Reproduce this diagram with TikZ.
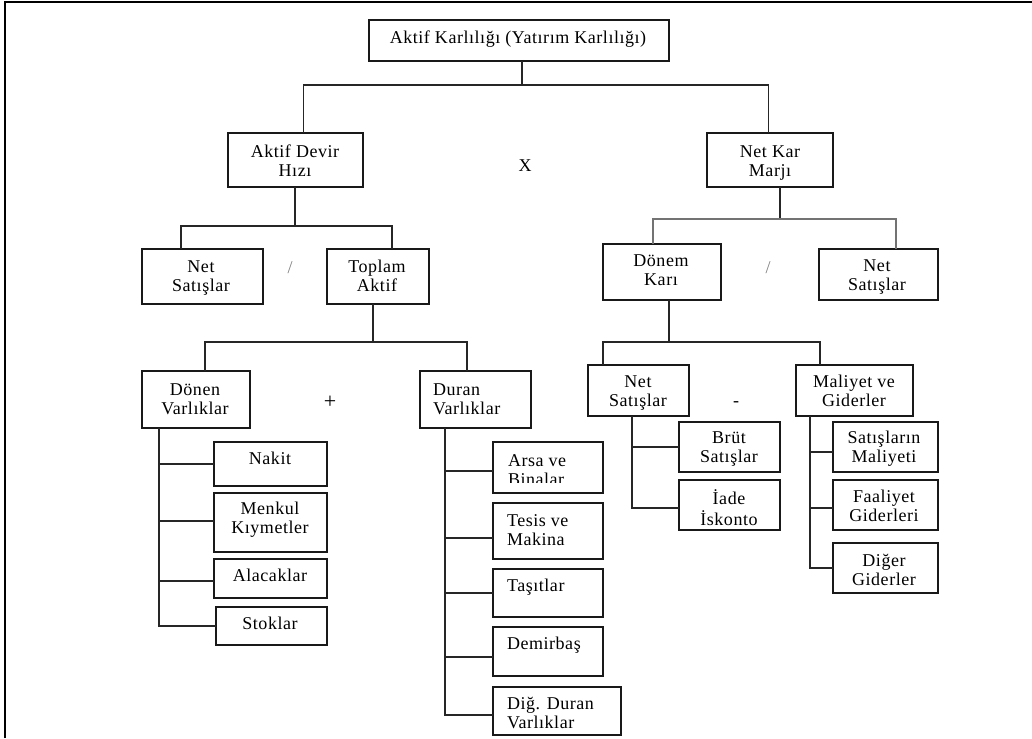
\documentclass[tikz,border=0pt]{standalone}
\usepackage{fontspec}
\setmainfont{Liberation Serif}[LetterSpace=3]
\newcommand\bx[6][box]{\node[#1, minimum width={(#5-#3)*1pt}, minimum height={(#6-#4)*1pt}] (#2) at ({(#3+#5)/2},{(#4+#6)/2}) {};}
\newcommand\tx[5][txt]{\node[#1] (#2) at (#3,{#4-7.8}) {#5};}
\begin{document}
\begin{tikzpicture}[x=1pt,y=-1pt,
  box/.style={draw=black!90, line width=1.2pt, rectangle, inner sep=0pt, outer sep=0pt},
  thickbox/.style={box, line width=2.4pt},
  txt/.style={inner sep=0pt, outer sep=0pt, font=\fontsize{18}{19}\selectfont, align=center, anchor=north},
  ltxt/.style={txt, align=left, anchor=north west},
  sym/.style={inner sep=0pt, outer sep=0pt, font=\fontsize{18}{19}\selectfont, anchor=center},
  conn/.style={draw=black!85, line width=1.2pt},
  gconn/.style={draw=black!55, line width=1.2pt}
]
\useasboundingbox (0,0) rectangle (1032,738);
% frame
\draw[line width=2.5pt] (5,738) -- (5,2.2) -- (1032,2.2);

% boxes
\bx[thickbox]{tb}{369}{20}{669}{61}
\bx[thickbox]{ad}{228}{133}{363}{187}
\bx[thickbox]{nk}{707}{133}{833}{187}
\bx{ns1}{142}{249}{263}{304}
\bx{ta}{327}{249}{429}{304}
\bx{dk}{603}{244}{721}{300}
\bx{ns2}{819}{249}{938}{300}
\bx{dv}{142}{371}{250}{428}
\bx{duv}{420}{371}{531}{428}
\bx{nak}{214}{442}{327}{486}
\bx{men}{214}{493}{327}{552}
\bx{ala}{214}{559}{327}{598}
\bx{sto}{216}{607}{327}{645}
\bx{ars}{493}{442}{603}{493}
\bx{tes}{493}{503}{603}{559}
\bx{tas}{493}{569}{603}{617}
\bx{dem}{493}{627}{603}{676}
\bx{dig}{493}{687}{621}{735}
\bx{nsat}{588}{365}{689}{416}
\bx{mg}{796}{365}{913}{416}
\bx{bru}{679}{422}{780}{472}
\bx{iad}{679}{480}{780}{530}
\bx{sm}{833}{422}{938}{472}
\bx{fg}{833}{480}{938}{530}
\bx{dg}{833}{543}{938}{593}

% texts
\tx{t0}{518}{38}{\strut Aktif Karlılığı (Yatırım Karlılığı)}
\tx{t1}{295}{152}{\strut Aktif Devir\\\strut Hızı}
\tx{t2}{770}{152}{\strut Net Kar\\\strut Marjı}
\tx{t3}{201}{267}{\strut Net\\\strut Satışlar}
\tx{t4}{377}{267}{\strut Toplam\\\strut Aktif}
\tx{t5}{661}{261}{\strut Dönem\\\strut Karı}
\tx{t6}{877}{266}{\strut Net\\\strut Satışlar}
\tx{t7}{195}{390}{\strut Dönen\\\strut Varlıklar}
\tx[ltxt]{t8}{433}{390}{\strut Duran\\\strut Varlıklar}
\tx{t9}{270}{459}{\strut Nakit}
\tx{t10}{270}{509}{\strut Menkul\\\strut Kıymetler}
\tx{t11}{270}{576}{\strut Alacaklar}
\tx{t12}{270}{624}{\strut Stoklar}
\begin{scope}
\clip (494,443) rectangle (602,482);
\tx[ltxt]{t13}{508}{461}{\strut Arsa ve\\\strut Binalar}
\end{scope}
\tx[ltxt]{t14}{507}{521}{\strut Tesis ve\\\strut Makina}
\tx[ltxt]{t15}{507}{586}{\strut Taşıtlar}
\tx[ltxt]{t16}{507}{644}{\strut Demirbaş}
\tx[ltxt]{t17}{507}{704}{\strut Diğ. Duran\\\strut Varlıklar}
\tx{t18}{638}{382}{\strut Net\\\strut Satışlar}
\tx{t19}{854}{382}{\strut Maliyet ve\\\strut Giderler}
\tx{t20}{729}{438}{\strut Brüt\\\strut Satışlar}
\tx{t21}{729}{497}{\strut İade\\\strut İskonto}
\tx{t22}{884}{438}{\strut Satışların\\\strut Maliyeti}
\tx{t23}{884}{497}{\strut Faaliyet\\\strut Giderleri}
\tx{t24}{884}{561}{\strut Diğer\\\strut Giderler}

% operators
\node[sym] (opx) at (525,166) {X};
\node[sym, text=black!50] (sl1) at (290,268) {/};
\node[sym, text=black!50] (sl2) at (768,268) {/};
\node[sym, font=\fontsize{22}{24}\selectfont] (opp) at (330,402) {+};
\node[sym] (opm) at (736,404) {-};

% connectors
\coordinate (j0) at (522,85);
\draw[conn] (tb.south -| j0) -- (j0);
\draw[conn] ([xshift=7.7]ad.north) |- (j0) -| ([xshift=-1.7]nk.north);

\coordinate (j1) at (295,226);
\draw[conn] (ad.south -| j1) -- (j1);
\draw[conn] ([xshift=-21.5]ns1.north) |- (j1) -| ([xshift=14]ta.north);

\coordinate (j2) at (780,219);
\draw[conn] (nk.south -| j2) -- (j2);
\draw[gconn] ([xshift=-9]dk.north) |- (j2) -| ([xshift=17.5]ns2.north);

\coordinate (j3) at (373,342);
\draw[conn] (ta.south -| j3) -- (j3);
\draw[conn] ([xshift=9]dv.north) |- (j3) -| ([xshift=-8.5]duv.north);

\coordinate (j4) at (669,342);
\draw[conn] (dk.south -| j4) -- (j4);
\draw[conn] ([xshift=-35.5]nsat.north) |- (j4) -| ([xshift=-34.5]mg.north);

% Dönen Varlıklar trunk
\coordinate (k1) at (159,428);
\draw[conn] (k1) |- (sto.west);
\draw[conn] (nak.west) -- (nak.west -| k1);
\draw[conn] ([yshift=1.5]men.west) -- ([yshift=1.5]men.west -| k1);
\draw[conn] ([yshift=-2.5]ala.west) -- ([yshift=-2.5]ala.west -| k1);

% Duran Varlıklar trunk
\coordinate (k2) at (445,428);
\draw[conn] (k2) |- ([yshift=-4]dig.west);
\draw[conn] ([yshift=-3.5]ars.west) -- ([yshift=-3.5]ars.west -| k2);
\draw[conn] ([yshift=-7]tes.west) -- ([yshift=-7]tes.west -| k2);
\draw[conn] (tas.west) -- (tas.west -| k2);
\draw[conn] ([yshift=-5.5]dem.west) -- ([yshift=-5.5]dem.west -| k2);

% Net Satışlar trunk
\coordinate (k3) at (632,416);
\draw[conn] (k3) |- ([yshift=-3]iad.west);
\draw[conn] (bru.west) -- (bru.west -| k3);

% Maliyet trunk
\coordinate (k4) at (810,416);
\draw[conn] (k4) |- (dg.west);
\draw[conn] ([yshift=-5]sm.west) -- ([yshift=-5]sm.west -| k4);
\draw[conn] ([yshift=-3]fg.west) -- ([yshift=-3]fg.west -| k4);
\end{tikzpicture}
\end{document}
